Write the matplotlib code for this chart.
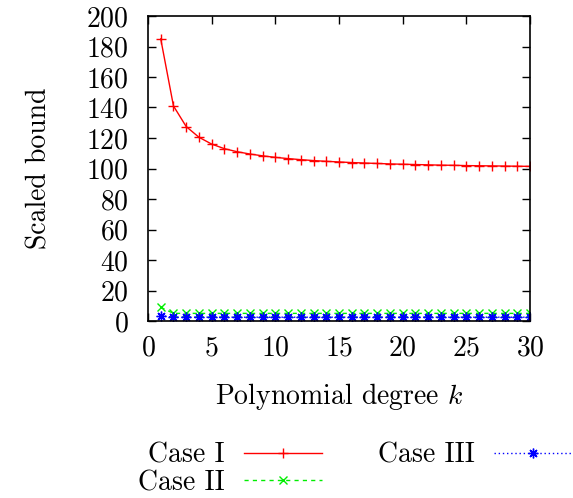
import matplotlib
matplotlib.use('Agg')
import matplotlib.pyplot as plt

plt.rcParams['font.family'] = ['cmr10', 'DejaVu Serif']
plt.rcParams['mathtext.fontset'] = 'cm'
plt.rcParams['axes.unicode_minus'] = False
plt.rcParams['axes.formatter.use_mathtext'] = True

# polynomial degree k = 1..30
k = list(range(1, 31))
case1 = [185, 141, 127.5, 120.5, 116, 113, 111, 109.5, 108.3, 107.3,
         106.5, 105.8, 105.2, 104.7, 104.3, 103.9, 103.6, 103.3, 103.0, 102.8,
         102.6, 102.4, 102.2, 102.1, 101.9, 101.8, 101.7, 101.6, 101.5, 101.4]
case2 = [9] + [5] * 29
case3 = [3.5] + [2.5] * 29

xticks = [0, 5, 10, 15, 20, 25, 30]
yticks = list(range(0, 201, 20))

fs = 20
fig = plt.figure(figsize=(5.73, 4.98), dpi=100)
ax = fig.add_axes([148/573, 1-321/498, (530-148)/573, (321-16)/498])

ax.plot(k, case1, color='#ff0000', lw=1, marker='+', ms=7, mew=1, label='Case I')
ax.plot(k, case2, color='#00ee00', lw=1, ls=(0, (3, 3)), marker='x', ms=6, mew=1, label='Case II')
ax.plot(k, case3, color='#0000ff', lw=1, ls=(0, (1, 2)), marker=(8, 2, 0), ms=7, mew=1, label='Case III')

ax.set_xlim(0, 30)
ax.set_ylim(0, 200)
ax.set_xticks(xticks)
ax.set_yticks(yticks)
ax.tick_params(direction='in', length=6, width=1, top=True, right=True, labelsize=fs)
ax.tick_params(axis='y', pad=14)
ax.tick_params(axis='x', pad=10)
for s in ax.spines.values():
    s.set_linewidth(1.2)

ax.set_xlabel('Polynomial degree $k$', fontsize=fs, labelpad=14)
ax.set_ylabel('Scaled bound', fontsize=fs, labelpad=24)

leg = fig.legend(loc='center', bbox_to_anchor=(355/573, 1-469/498), ncol=2,
                 markerfirst=False, frameon=False, fontsize=fs, handlelength=2.8,
                 handletextpad=0.7, columnspacing=2.0, labelspacing=0.05)

fig.savefig('out.png', dpi=100)
